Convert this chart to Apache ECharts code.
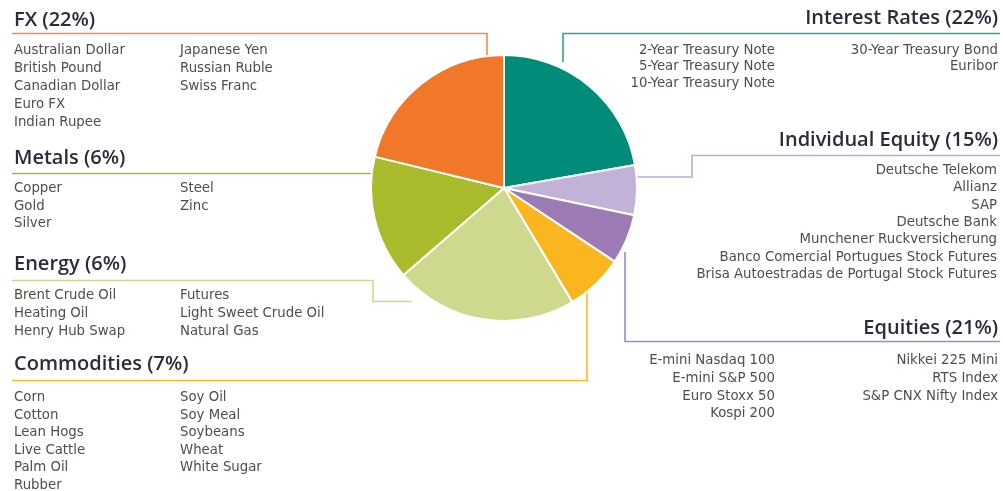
<!DOCTYPE html>
<html>
<head>
<meta charset="utf-8">
<script src="https://cdn.jsdelivr.net/npm/echarts@6/dist/echarts.min.js"></script>
<style>
  html, body { margin: 0; padding: 0; background: #fff; }
  #chart { width: 1003px; height: 491px; }
</style>
</head>
<body>
<div id="chart"></div>
<script>
// slices, clockwise from 12 o'clock
const categories = ['Interest Rates', 'Individual Equity', 'Equities', 'Commodities', 'Energy', 'Metals', 'FX']
// printed shares in the headings
const labelShares = [22, 15, 21, 7, 6, 6, 22]
// slice sizes as they are drawn in the pie
const sliceShares = [22, 6, 6, 7, 22, 15, 21]

const interestRates1 = ['2-Year Treasury Note', '5-Year Treasury Note', '10-Year Treasury Note']
const interestRates2 = ['30-Year Treasury Bond', 'Euribor']
const individualEquity = ['Deutsche Telekom', 'Allianz', 'SAP', 'Deutsche Bank', 'Munchener Ruckversicherung',
  'Banco Comercial Portugues Stock Futures', 'Brisa Autoestradas de Portugal Stock Futures']
const equities1 = ['E-mini Nasdaq 100', 'E-mini S&P 500', 'Euro Stoxx 50', 'Kospi 200']
const equities2 = ['Nikkei 225 Mini', 'RTS Index', 'S&P CNX Nifty Index']
const commodities1 = ['Corn', 'Cotton', 'Lean Hogs', 'Live Cattle', 'Palm Oil', 'Rubber']
const commodities2 = ['Soy Oil', 'Soy Meal', 'Soybeans', 'Wheat', 'White Sugar']
const energy1 = ['Brent Crude Oil', 'Heating Oil', 'Henry Hub Swap']
const energy2 = ['Futures', 'Light Sweet Crude Oil', 'Natural Gas']
const metals1 = ['Copper', 'Gold', 'Silver']
const metals2 = ['Steel', 'Zinc']
const fx1 = ['Australian Dollar', 'British Pound', 'Canadian Dollar', 'Euro FX', 'Indian Rupee']
const fx2 = ['Japanese Yen', 'Russian Ruble', 'Swiss Franc']

const colors = ['#008c78', '#c3b2d8', '#9c7ab6', '#f9b61f', '#cfd98d', '#a9bb2a', '#f07828']
const lineColors = ['#2ea491', '#bfaad6', '#a688c0', '#fbba28', '#cbd98c', '#a7bb2c', '#f68c48']

const titleFont = '600 20px "Open Sans", sans-serif'
const itemFont = '13.3px "DejaVu Sans", sans-serif'

const title = (i, x, y, align) => ({
  type: 'text',
  x, y,
  style: {
    text: categories[i] + ' (' + labelShares[i] + '%)',
    font: titleFont, fill: '#2b2b3a',
    align, verticalAlign: 'middle'
  }
})

const list = (items, x, y, align, lh) => ({
  type: 'text',
  x, y,
  style: {
    text: items.join('\n'),
    font: itemFont, fill: '#524c4a',
    align, verticalAlign: 'top', lineHeight: lh
  }
})

const line = (i, points) => ({
  type: 'polyline',
  shape: { points },
  style: { stroke: lineColors[i], lineWidth: 1.6, fill: null }
})

const chart = echarts.init(document.getElementById('chart'))

chart.setOption({
  backgroundColor: '#fff',
  animation: false,
  series: [{
    type: 'pie',
    center: [504, 188],
    radius: 133,
    startAngle: 90,
    clockwise: true,
    label: { show: false },
    labelLine: { show: false },
    emphasis: { disabled: true },
    itemStyle: { borderColor: '#fff', borderWidth: 2 },
    data: categories.map((name, i) => ({
      name,
      value: sliceShares[i],
      itemStyle: { color: colors[i] }
    }))
  }],
  graphic: [
    // connectors
    line(0, [[563, 62], [563, 33.5], [1000, 33.5]]),
    line(1, [[634, 177], [692, 177], [692, 155.5], [1000, 155.5]]),
    line(2, [[625, 252], [625, 341.5], [1000, 341.5]]),
    line(3, [[587, 290], [587, 380.5], [12, 380.5]]),
    line(4, [[412, 301.5], [373, 301.5], [373, 280.5], [12, 280.5]]),
    line(5, [[374, 173.5], [12, 173.5]]),
    line(6, [[12, 33.5], [487, 33.5], [487, 57]]),

    // right side
    title(0, 998, 18, 'right'),
    list(interestRates1, 775, 42, 'right', 16.5),
    list(interestRates2, 998, 42, 'right', 16.5),
    title(1, 998, 140, 'right'),
    list(individualEquity, 997, 162, 'right', 17.3),
    title(2, 998, 328, 'right'),
    list(equities1, 775, 352, 'right', 17.7),
    list(equities2, 998, 352, 'right', 17.7),

    // left side
    title(6, 14, 20, 'left'),
    list(fx1, 14, 42, 'left', 18),
    list(fx2, 180, 42, 'left', 18),
    title(5, 14, 158, 'left'),
    list(metals1, 14, 180, 'left', 17.5),
    list(metals2, 180, 180, 'left', 17.5),
    title(4, 14, 264, 'left'),
    list(energy1, 14, 287, 'left', 17.8),
    list(energy2, 180, 287, 'left', 17.8),
    title(3, 14, 364, 'left'),
    list(commodities1, 14, 389, 'left', 17.5),
    list(commodities2, 180, 389, 'left', 17.5)
  ]
})
</script>
</body>
</html>
